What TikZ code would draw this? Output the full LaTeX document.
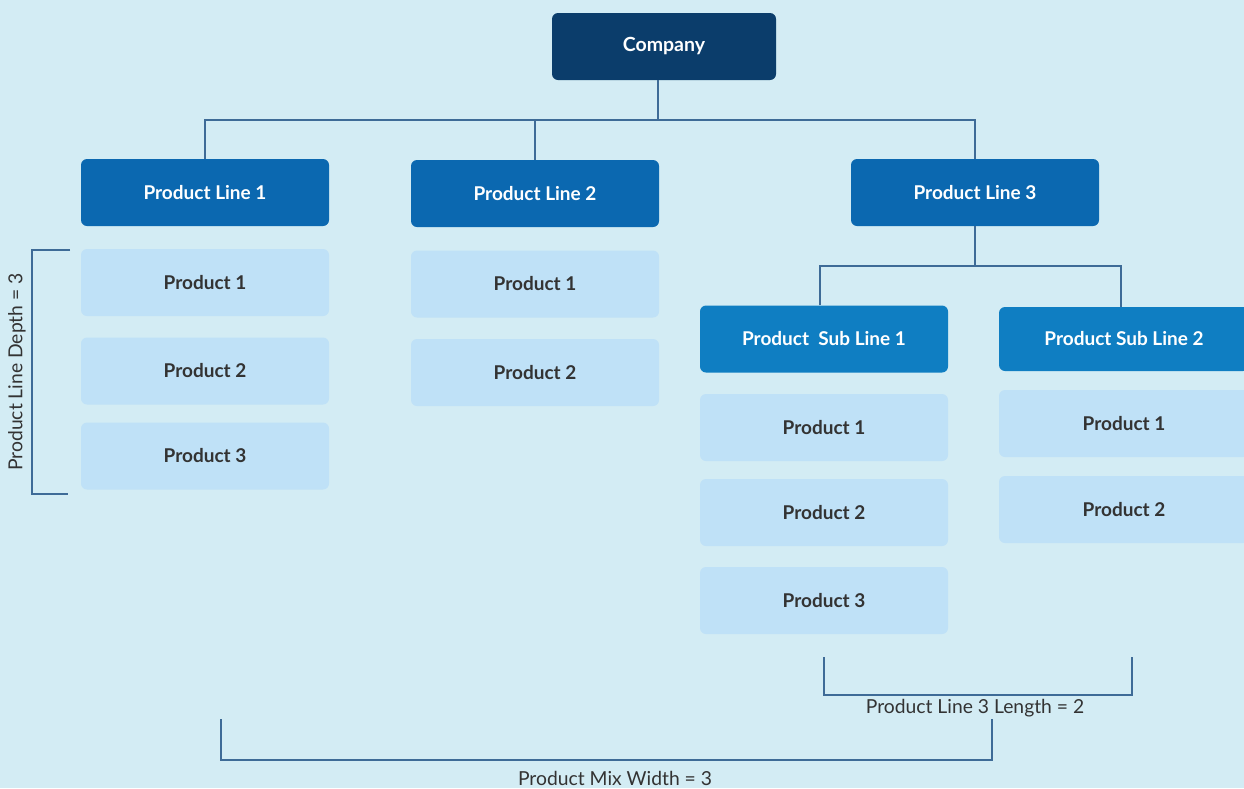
\documentclass[tikz,border=0pt]{standalone}
\usepackage{fontspec}
\setmainfont{Lato}
\usetikzlibrary{calc}
\definecolor{bgc}{HTML}{D3ECF4}
\definecolor{compc}{HTML}{0B3D6B}
\definecolor{plc}{HTML}{0B68B0}
\definecolor{slc}{HTML}{0F7EC2}
\definecolor{prodc}{HTML}{BFE1F7}
\definecolor{linec}{HTML}{3E6B97}
\definecolor{txtc}{HTML}{333333}
\tikzset{
  boxbase/.style={rectangle, rounded corners=6pt, inner sep=0pt, minimum width=248pt, minimum height=67pt, font=\fontsize{19}{22}\selectfont\bfseries},
  compbox/.style={boxbase, fill=compc, text=white, minimum width=224pt, font=\fontsize{19.5}{22}\selectfont\bfseries},
  plbox/.style={boxbase, fill=plc, text=white},
  slbox/.style={boxbase, fill=slc, text=white},
  prodbox/.style={boxbase, fill=prodc, text=txtc},
  conn/.style={draw=linec, line width=1.8pt},
  lbl/.style={text=txtc, font=\fontsize{19.3}{22}\selectfont, inner sep=0pt}
}
\begin{document}
\begin{tikzpicture}[x=1pt,y=-1pt]
\fill[bgc] (0,0) rectangle (1244,788);
\useasboundingbox (0,0) rectangle (1244,788);

\node[compbox] (comp) at (664,46.5) {Company};
\node[plbox] (pl1) at (205,192.5) {Product Line 1};
\node[plbox] (pl2) at (535,193.5) {Product Line 2};
\node[plbox] (pl3) at (975,192.5) {Product Line 3};

\node[prodbox] (a1) at (205,282.5) {Product 1};
\node[prodbox] (a2) at (205,371) {Product 2};
\node[prodbox] (a3) at (205,456) {Product 3};

\node[prodbox] (b1) at (535,284) {Product 1};
\node[prodbox] (b2) at (535,372.5) {Product 2};

\node[slbox] (sl1) at (824,339) {Product\ \ Sub Line 1};
\node[slbox, minimum width=250pt, minimum height=64pt] (sl2) at (1124,339) {Product Sub Line 2};

\node[prodbox] (c1) at (824,427.5) {Product 1};
\node[prodbox] (c2) at (824,512.5) {Product 2};
\node[prodbox] (c3) at (824,600.5) {Product 3};

\node[prodbox, minimum width=250pt] (d1) at (1124,423.5) {Product 1};
\node[prodbox, minimum width=250pt] (d2) at (1124,509.5) {Product 2};

% connectors
\draw[conn] ($(comp.south)+(-6,0)$) -- ++(0,40);
\draw[conn] (pl1.north) -- ++(0,-39) -| (pl3.north);
\draw[conn] (pl2.north) -- ++(0,-40);
\draw[conn] (pl3.south) -- ++(0,40);
\draw[conn] ($(sl1.north)+(-4,0)$) -- ++(0,-39) -| ($(sl2.north)+(-3,0)$);

% brackets
\coordinate (dt) at (70,250);
\coordinate (db) at (68,494);
\draw[conn] (dt) -- (32,250) -- (32,494) -- (db);
\node[lbl, rotate=90] (dlab) at (17,372) {Product Line Depth = 3};

\coordinate (lt1) at (824,657);
\coordinate (lt2) at (1132,657);
\draw[conn] (lt1) -- (824,695) -- (1132,695) -- (lt2);
\node[lbl] (llab) at (975,708) {Product Line 3 Length = 2};

\coordinate (mt1) at (221,719);
\coordinate (mt2) at (992,719);
\draw[conn] (mt1) -- (221,760) -- (992,760) -- (mt2);
\node[lbl] (mlab) at (615,778) {Product Mix Width = 3};
\end{tikzpicture}
\end{document}
